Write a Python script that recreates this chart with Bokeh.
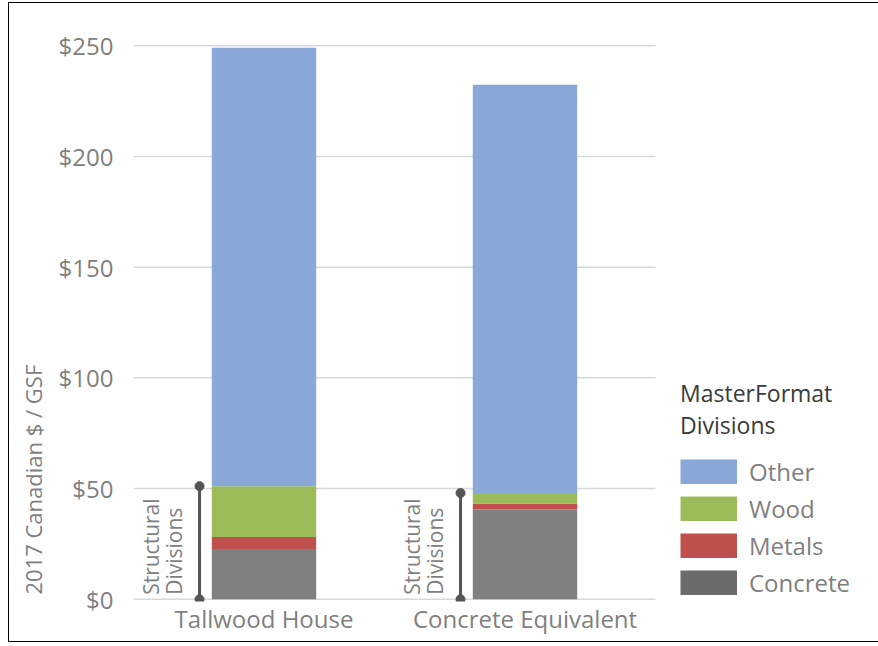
import math
from bokeh.plotting import figure
from bokeh.models import (ColumnDataSource, Range1d, Legend, LegendItem,
                          NumeralTickFormatter, FixedTicker)
from bokeh.transform import dodge
from bokeh.core.properties import value
from bokeh.embed import file_html
from bokeh.resources import INLINE

# ---- data ----
buildings = ["Tallwood House", "Concrete Equivalent"]
divisions = ["Concrete", "Metals", "Wood", "Other"]
concrete = [22.7, 40.5]
metals = [5.4, 2.8]
wood = [23.0, 4.7]
other = [198.0, 184.4]
y_ticks = [0, 50, 100, 150, 200, 250]

bar_colors = ["#7f8181", "#c0504d", "#9bbb59", "#89a8d8"]
legend_colors = {"Other": "#89a8d8", "Wood": "#9bbb59", "Metals": "#c0504d", "Concrete": "#6b6a6c"}

FONT = "Open Sans"
GREY = "#7f7f7f"

n = len(buildings)
xpos = [i + 0.5 for i in range(n)]
structural_top = [c + m + w for c, m, w in zip(concrete, metals, wood)]

src = ColumnDataSource(dict(x=xpos, Concrete=concrete, Metals=metals,
                            Wood=wood, Other=other, stop=structural_top,
                            sbot=[0] * n, tpos=[2] * n,
                            t1=["Structural"] * n, t2=["Divisions"] * n))

p = figure(width=878, height=646, x_range=Range1d(0, 745 / 261),
           y_range=Range1d(-1, 251), output_backend="svg", toolbar_location=None,
           min_border_left=133, min_border_right=0, min_border_top=43,
           min_border_bottom=45)
# thin black frame (left, top, bottom) painted behind a transparent border area
p.styles = {
    "background-color": "white",
    "background-image": "linear-gradient(#000,#000), linear-gradient(#000,#000), linear-gradient(#000,#000)",
    "background-size": "1px 640px, 870px 1px, 870px 1px",
    "background-position": "8px 2px, 8px 2px, 8px 641px",
    "background-repeat": "no-repeat",
}
p.outline_line_color = None
p.background_fill_color = "white"
p.border_fill_alpha = 0
p.xgrid.grid_line_color = None
p.ygrid.grid_line_color = None

# horizontal gridlines across the category area only
p.segment(x0=[0] * len(y_ticks), x1=[n] * len(y_ticks), y0=y_ticks, y1=y_ticks,
          line_color="#d9d9d9", line_width=1.5)

renderers = p.vbar_stack(divisions, x="x", width=0.4, source=src,
                         color=bar_colors, line_color=None)

# structural bracket
xb = dodge("x", -0.247)
p.segment(x0=xb, y0="sbot", x1=xb, y1="stop", source=src, line_color="#555555", line_width=3)
p.scatter(x=xb, y="sbot", source=src, size=9, color="#555555")
p.scatter(x=xb, y="stop", source=src, size=9, color="#555555")
p.text(x=xb, y="tpos", text="t2", source=src, angle=math.pi / 2, x_offset=-26,
       text_align="left", text_baseline="middle", text_font=value(FONT),
       text_font_size="21px", text_color=GREY)
p.text(x=xb, y="tpos", text="t1", source=src, angle=math.pi / 2, x_offset=-49,
       text_align="left", text_baseline="middle", text_font=value(FONT),
       text_font_size="21px", text_color=GREY)

# axes
p.yaxis.ticker = FixedTicker(ticks=y_ticks)
p.yaxis.formatter = NumeralTickFormatter(format="$0")
p.xaxis.ticker = FixedTicker(ticks=xpos)
p.xaxis.major_label_overrides = {x: b for x, b in zip(xpos, buildings)}
for ax in (p.xaxis[0], p.yaxis[0]):
    ax.axis_line_color = None
    ax.major_tick_line_color = None
    ax.minor_tick_line_color = None
    ax.major_label_text_font = FONT
    ax.major_label_text_color = GREY
p.yaxis.major_label_text_font_size = "24px"
p.xaxis.major_label_text_font_size = "24px"
p.yaxis.major_label_standoff = 14
p.xaxis.major_label_standoff = -6

# y-axis title, pushed toward the bottom with trailing no-break spaces
p.yaxis.axis_label = "2017 Canadian $ / GSF" + "\u00a0" * 55
p.yaxis.axis_label_text_font = FONT
p.yaxis.axis_label_text_font_size = "22px"
p.yaxis.axis_label_text_font_style = "normal"
p.yaxis.axis_label_text_color = GREY
p.yaxis.axis_label_standoff = 8

# legend swatches: thick butt-capped lines fill the whole glyph box
items = []
for name in ["Other", "Wood", "Metals", "Concrete"]:
    r = p.line(x=[-5, -4], y=[-5, -5], line_color=legend_colors[name],
               line_width=25, line_cap="butt")
    items.append(LegendItem(label=name, renderers=[r]))
legend = Legend(items=items, location=(547, 2), glyph_width=57, glyph_height=25,
                label_text_font=FONT, label_text_font_size="24px", label_text_color=GREY,
                spacing=4, padding=0, margin=0, border_line_color=None,
                background_fill_alpha=0, label_standoff=12,
                title="MasterFormat\nDivisions", title_text_font=FONT,
                title_text_font_size="23px", title_text_font_style="normal",
                title_text_color="#3b3b3b", title_standoff=14)
p.add_layout(legend, "center")

open("out.html", "w").write(file_html(p, INLINE))
